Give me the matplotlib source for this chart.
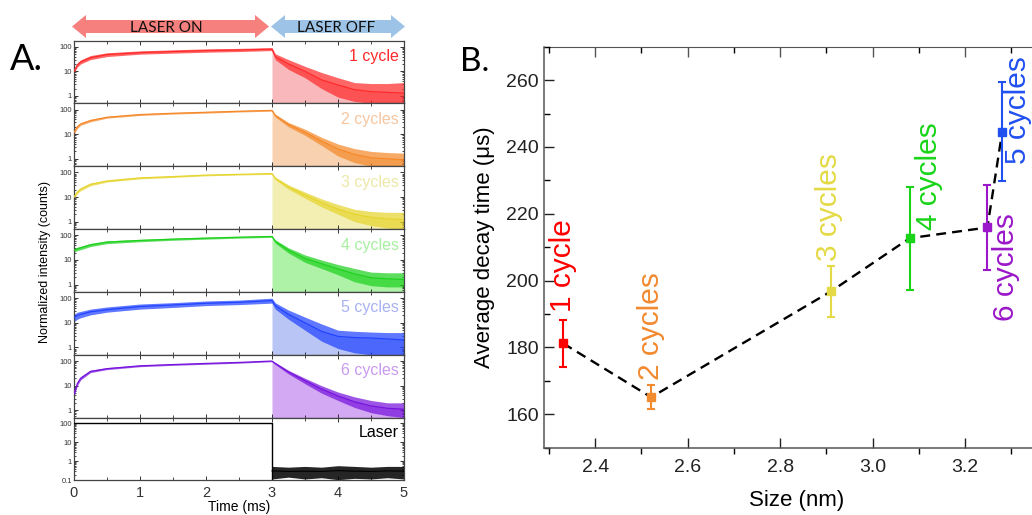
import numpy as np
import matplotlib
matplotlib.use('Agg')
import matplotlib.pyplot as plt
from matplotlib.patches import Polygon
from matplotlib.ticker import LogLocator, NullFormatter, FixedLocator, FixedFormatter, MultipleLocator

plt.rcParams['font.family'] = ['Liberation Sans', 'DejaVu Sans']

# ---------------- Panel A data ----------------
t_knots = [0, 0.05, 0.1, 0.25, 0.5, 1.0, 1.5, 2.0, 2.5, 3.0, 3.05, 3.25, 3.5, 3.75, 4.0, 4.25, 4.5, 4.75, 5.0]

red_mid = [10, 18, 24, 36, 48, 58, 64, 70, 74, 80, 40, 20, 10, 4.5, 2.8, 1.8, 1.5, 1.4, 1.3]
red_hi  = [12, 22, 29, 44, 57, 68, 75, 82, 86, 92, 52, 30, 16, 9, 5.5, 3.5, 3.2, 3.2, 3.5]
red_lo  = [8.5, 15, 20, 30, 40, 50, 55, 60, 64, 70, 30, 12, 5.5, 2.0, 0.9, 0.6, 0.5, 0.5, 0.5]

orange_mid = [11.7, 20, 26, 36, 49, 63, 71, 78, 86, 93, 58, 25, 12, 5.3, 2.5, 1.5, 1.1, 1.0, 0.9]
orange_hi  = [13, 23, 29, 40, 53, 68, 76, 84, 92, 99, 65, 30, 16, 7.5, 4, 2.6, 2.0, 1.8, 1.7]
orange_lo  = [10, 17, 23, 32, 45, 58, 66, 72, 80, 87, 50, 20, 9, 3.5, 1.3, 0.7, 0.5, 0.5, 0.5]

yellow_mid = [10, 16, 21, 33, 45, 60, 68, 78, 84, 90, 58, 26, 12, 6, 3.2, 2, 1.5, 1.3, 1.2]
yellow_hi  = [11.5, 18, 24, 37, 49, 65, 73, 83, 89, 96, 65, 31, 16, 8.5, 5, 3.2, 2.6, 2.4, 2.4]
yellow_lo  = [8.5, 14, 18, 29, 41, 55, 63, 73, 79, 84, 51, 21, 9, 4, 2, 1, 0.7, 0.55, 0.5]

green_mid = [25, 28, 31, 41, 53, 62, 70, 77, 84, 90, 57, 25, 11.5, 7, 4.3, 2.7, 1.9, 1.7, 1.6]
green_hi  = [29, 33, 36, 47, 60, 69, 77, 84, 91, 97, 66, 31, 16, 10, 6.5, 4.5, 3.2, 3.0, 3.0]
green_lo  = [21, 24, 26, 35, 46, 55, 63, 70, 77, 83, 48, 19, 8, 4.5, 2.5, 1.3, 0.9, 0.8, 0.8]

blue_mid = [16, 20, 22, 28, 34, 46, 53, 62, 68, 80, 50, 22, 10, 4.5, 2.8, 2.5, 2.4, 2.2, 2.0]
blue_hi  = [22, 27, 29, 36, 44, 58, 66, 77, 84, 100, 65, 33, 17, 9, 5, 4.5, 4.2, 4.0, 4.0]
blue_lo  = [11, 14, 16, 21, 27, 36, 42, 50, 55, 63, 36, 14, 5, 1.8, 0.9, 0.6, 0.5, 0.5, 0.5]

purple_mid = [4.5, 12, 20, 38, 49, 64, 72, 80, 88, 100, 80, 36, 16, 7.3, 3.8, 2.2, 1.5, 1.2, 1.1]
purple_hi  = [5.5, 14, 23, 42, 54, 69, 77, 86, 94, 105, 88, 42, 20, 10, 5.5, 3.5, 2.5, 2.0, 2.0]
purple_lo  = [3.7, 10, 17, 34, 45, 59, 67, 74, 82, 94, 72, 30, 12, 5, 2.5, 1.3, 0.8, 0.6, 0.5]

trace_labels = ['1 cycle', '2 cycles', '3 cycles', '4 cycles', '5 cycles', '6 cycles']

laser_t = [0, 3, 3]
laser_level = [100, 100, 0.1]
laser_off_t = [3.0, 3.25, 3.5, 3.75, 4.0, 4.25, 4.5, 4.75, 5.0]
laser_off_mid = [0.32, 0.30, 0.31, 0.30, 0.33, 0.31, 0.30, 0.32, 0.31]
laser_off_hi = [0.55, 0.5, 0.55, 0.5, 0.6, 0.55, 0.5, 0.55, 0.55]
laser_off_lo = [0.12, 0.15, 0.12, 0.14, 0.11, 0.13, 0.12, 0.14, 0.12]

# ---------------- Panel B data ----------------
size_nm = [2.331, 2.521, 2.910, 3.080, 3.280, 3.248]
decay_us = [181.2, 165.1, 196.8, 212.7, 244.5, 215.9]
decay_err = [7.0, 3.6, 7.6, 15.4, 14.8, 12.8]
b_labels = ['1 cycle', '2 cycles', '3 cycles', '4 cycles', '5 cycles', '6 cycles']
b_label_x = [2.331, 2.521, 2.906, 3.1215, 3.314, 3.289]
b_label_y = [190.5, 170.2, 206.0, 215.0, 235.0, 220.1]
b_label_va = ['bottom', 'bottom', 'bottom', 'bottom', 'bottom', 'top']

# ---------------- styles ----------------
line_colors = ['#FF2B2B', '#F5892A', '#E6D52E', '#1FD11F', '#2244FF', '#7714DD']
fill_colors = ['#F9B9BC', '#F8D2B0', '#F3EFB2', '#ADF2A6', '#B9C5F5', '#D3A9F3']
text_colors = ['#FF2A2A', '#F6C6A0', '#EDE8A6', '#A6F0A0', '#A8B2F2', '#C99AF0']
b_colors = ['#FF0000', '#F28A30', '#E4DA45', '#19D419', '#2050F0', '#9B17C9']

W, H = 1032, 515
fig = plt.figure(figsize=(W / 100, H / 100), dpi=100)

def px_rect(left, top, width, height):
    return [left / W, 1 - (top + height) / H, width / W, height / H]

spine_col = '#444444'

# ---------------- Panel A ----------------
mids = [red_mid, orange_mid, yellow_mid, green_mid, blue_mid, purple_mid]
his = [red_hi, orange_hi, yellow_hi, green_hi, blue_hi, purple_hi]
los = [red_lo, orange_lo, yellow_lo, green_lo, blue_lo, purple_lo]

a_left, a_width = 74, 330
a_top, n_pan = 40.5, 7
pan_h = (480.5 - 40.5) / n_pan
t = np.array(t_knots)
for i in range(n_pan):
    ax = fig.add_axes(px_rect(a_left, a_top + i * pan_h, a_width, pan_h))
    ax.set_xlim(0, 5)
    ax.set_yscale('log')
    if i < 6:
        ymin, ymax = 0.5, 180
        ax.set_ylim(ymin, ymax)
        mid = np.array(mids[i]); hi = np.array(his[i]); lo = np.array(los[i])
        dec = t >= 3.0
        ax.fill_between(t[dec], ymin, mid[dec], color=fill_colors[i], lw=0, zorder=1)
        ax.fill_between(t, lo, hi, color=line_colors[i], alpha=0.72, lw=0, zorder=2)
        ax.plot(t, mid, color=line_colors[i], lw=0.9, zorder=3)
        ax.text(0.985, 0.745, trace_labels[i], transform=ax.transAxes, ha='right', va='center',
                fontsize=11.5, color=text_colors[i])
        ax.yaxis.set_major_locator(FixedLocator([1, 10, 100]))
        ax.yaxis.set_major_formatter(FixedFormatter(['1', '10', '100']))
    else:
        ymin, ymax = 0.1, 200
        ax.set_ylim(ymin, ymax)
        ax.plot(laser_t, laser_level, color='black', lw=1.0, zorder=3)
        ax.fill_between(laser_off_t, laser_off_lo, laser_off_hi, color='black', alpha=0.85, lw=0, zorder=2)
        ax.plot(laser_off_t, laser_off_mid, color='black', lw=0.8, zorder=3)
        ax.text(0.985, 0.765, 'Laser', transform=ax.transAxes, ha='right', va='center',
                fontsize=11.5, color='black')
        ax.yaxis.set_major_locator(FixedLocator([0.1, 1, 10, 100]))
        ax.yaxis.set_major_formatter(FixedFormatter(['0.1', '1', '10', '100']))
    ax.yaxis.set_minor_locator(LogLocator(base=10, subs=np.arange(2, 10) * 1.0))
    ax.yaxis.set_minor_formatter(NullFormatter())
    ax.xaxis.set_major_locator(MultipleLocator(1))
    ax.xaxis.set_minor_locator(MultipleLocator(0.5))
    ax.tick_params(which='major', direction='in', length=3, width=0.7, top=True, right=True,
                   labelsize=5.5, colors='#333333', pad=1.5)
    ax.tick_params(which='minor', direction='in', length=1.5, width=0.5, top=True, right=True)
    ax.tick_params(axis='x', which='minor', length=2.2)
    for s in ax.spines.values():
        s.set_color(spine_col)
        s.set_linewidth(0.9)
    if i < n_pan - 1:
        ax.tick_params(axis='x', labelbottom=False)
    else:
        ax.tick_params(axis='x', labelsize=10.5, pad=4)
        ax.set_xlabel('Time (ms)', fontsize=10, labelpad=0)

fig.text(45 / W, 1 - 262 / H, 'Normalized intensity (counts)', rotation=90, ha='center', va='center',
         fontsize=9)

# arrows banner
def dbl_arrow(x0, x1, yc, head_len, body_half, head_half, color):
    pts = [(x0, yc), (x0 + head_len, yc - head_half), (x0 + head_len, yc - body_half),
           (x1 - head_len, yc - body_half), (x1 - head_len, yc - head_half), (x1, yc),
           (x1 - head_len, yc + head_half), (x1 - head_len, yc + body_half),
           (x0 + head_len, yc + body_half), (x0 + head_len, yc + head_half)]
    pts = [(x / W, 1 - y / H) for x, y in pts]
    fig.add_artist(Polygon(pts, closed=True, transform=fig.transFigure, facecolor=color,
                           edgecolor='none'))

dbl_arrow(72, 269, 26.5, 14, 6.5, 11.5, '#F6807E')
dbl_arrow(271, 405, 26.5, 14, 6.5, 11.5, '#9DC3E6')
fig.text(166 / W, 1 - 28 / H, 'LASER ON', ha='center', va='center', fontsize=11, family='Lato',
         color='#111111')
fig.text(336 / W, 1 - 28 / H, 'LASER OFF', ha='center', va='center', fontsize=11, family='Lato',
         color='#111111')
fig.text(26 / W, 1 - 60 / H, 'A.', ha='center', va='center', fontsize=26, family='Lato')
fig.text(475 / W, 1 - 62 / H, 'B.', ha='center', va='center', fontsize=24, family='Lato')

# ---------------- Panel B ----------------
x_lo, x_hi = 2.29, 3.38
y_lo, y_hi = 150, 270
ppu = 462.5
b_left = 544.3
axB = fig.add_axes(px_rect(b_left, 46.7, (x_hi - x_lo) * ppu, 447.7 - 46.7))
axB.set_xlim(x_lo, x_hi)
axB.set_ylim(y_lo, y_hi)

order = np.argsort(size_nm)
axB.plot(np.array(size_nm)[order], np.array(decay_us)[order], color='black', lw=1.7,
         dashes=(4.2, 2.6), zorder=2)
for i in range(len(size_nm)):
    axB.errorbar(size_nm[i], decay_us[i], yerr=decay_err[i], fmt='s', color=b_colors[i],
                 markersize=6, capsize=2.6, elinewidth=1.5, capthick=1.5, zorder=3)
    axB.text(b_label_x[i], b_label_y[i], b_labels[i], rotation=90, ha='center', va=b_label_va[i],
             fontsize=21.5, color=b_colors[i])

axB.xaxis.set_major_locator(FixedLocator([2.4, 2.6, 2.8, 3.0, 3.2]))
axB.xaxis.set_minor_locator(FixedLocator([2.3, 2.5, 2.7, 2.9, 3.1, 3.3]))
axB.yaxis.set_major_locator(MultipleLocator(20))
axB.yaxis.set_minor_locator(MultipleLocator(10))
axB.xaxis.set_major_formatter(matplotlib.ticker.FormatStrFormatter('%.1f'))
axB.tick_params(which='major', direction='in', length=7, width=1.0, labelsize=14, colors='#222222',
                pad=8, top=False, right=False)
axB.tick_params(which='minor', direction='in', length=4, width=1.0, top=False, right=False)
axB.tick_params(axis='x', which='minor', direction='out', length=4)
axB.tick_params(axis='y', pad=4)
sec = axB.secondary_xaxis('top')
sec.xaxis.set_major_locator(FixedLocator([2.4, 2.6, 2.8, 3.0, 3.2]))
sec.xaxis.set_minor_locator(FixedLocator([2.3, 2.5, 2.7, 2.9, 3.1, 3.3]))
sec.tick_params(which='major', direction='in', length=7, width=1.0, labeltop=False, colors='#555555')
sec.tick_params(which='minor', direction='in', length=4, width=1.0)
sec.spines['top'].set_color('#555555')
for s in axB.spines.values():
    s.set_color('#555555')
    s.set_linewidth(1.1)
axB.spines['top'].set_visible(False)
axB.set_xlabel('Size (nm)', fontsize=16, labelpad=10)
axB.set_ylabel('Average decay time (\u03bcs)', fontsize=16, labelpad=8)

fig.savefig('out.png', dpi=100)
